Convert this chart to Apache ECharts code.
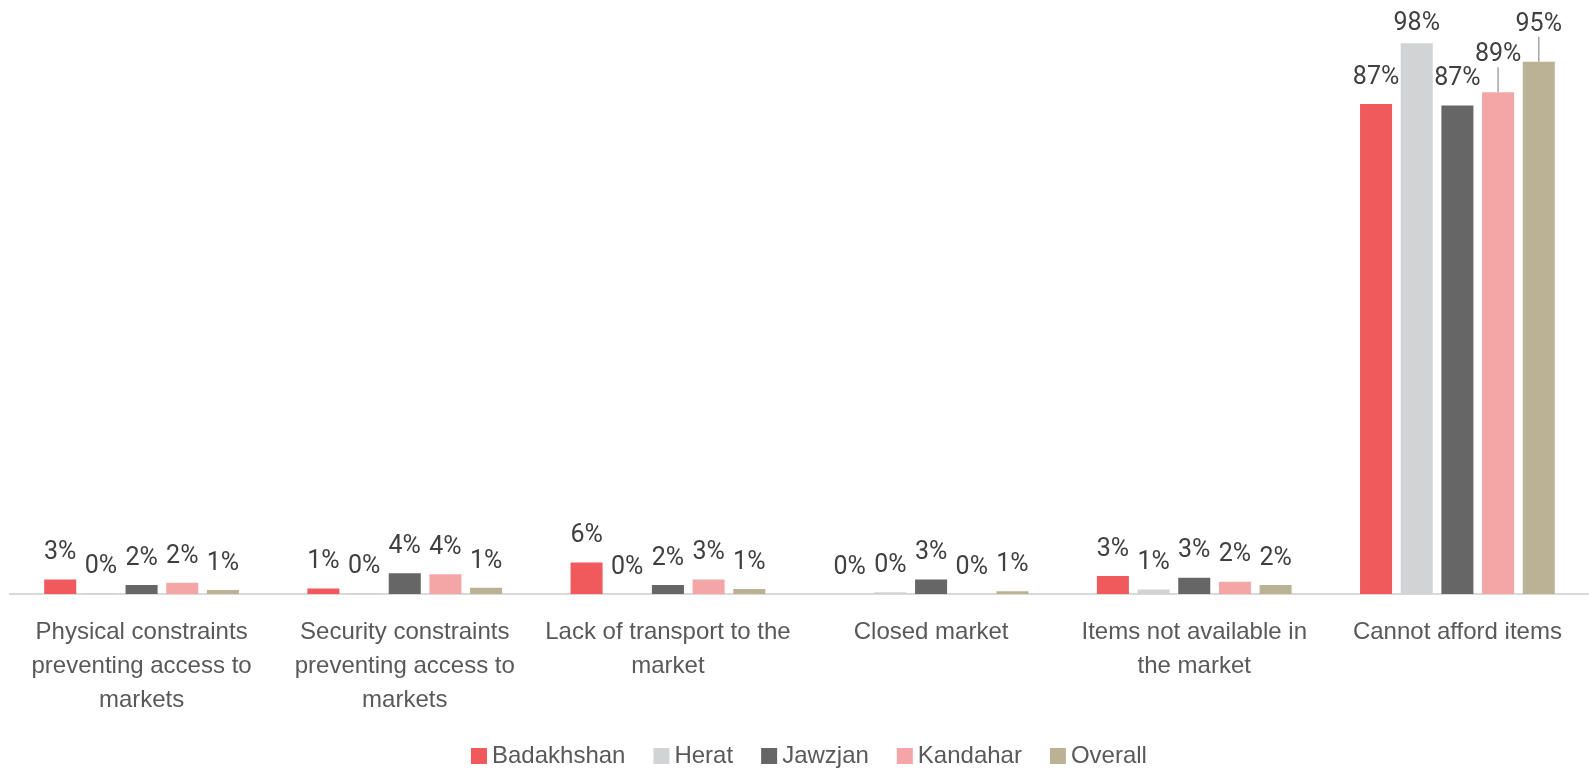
<!DOCTYPE html>
<html>
<head>
<meta charset="utf-8">
<script src="https://cdn.jsdelivr.net/npm/echarts@6/dist/echarts.min.js"></script>
<style>
  html, body { margin: 0; padding: 0; background: #fff; }
  #chart { width: 1589px; height: 770px; }
</style>
</head>
<body>
<div id="chart"></div>
<script>
  // categories (line breaks as in the original axis labels)
  var categories = [
    'Physical constraints\npreventing access to\nmarkets',
    'Security constraints\npreventing access to\nmarkets',
    'Lack of transport to the\nmarket',
    'Closed market',
    'Items not available in\nthe market',
    'Cannot afford items'
  ];

  // values in %
  var badakhshan = [2.6, 1.0, 5.6, 0.0, 3.2, 87.2];
  var herat      = [0.2, 0.2, 0.0, 0.3, 0.8, 98.0];
  var jawzjan    = [1.6, 3.7, 1.6, 2.6, 2.9, 86.9];
  var kandahar   = [2.0, 3.5, 2.6, 0.0, 2.2, 89.3];
  var overall    = [0.7, 1.1, 0.9, 0.5, 1.6, 94.7];

  var seriesNames = ['Badakhshan', 'Herat', 'Jawzjan', 'Kandahar', 'Overall'];
  var seriesData = [badakhshan, herat, jawzjan, kandahar, overall];
  var colors = ['#F05A5C', '#D2D3D5', '#666666', '#F4A6A7', '#BBB295'];

  // hand-moved data labels: [series, category, dy, leader line]
  var movedLabels = [[1, 5, 7, false], [3, 5, -11, true], [4, 5, -11, true]];

  var sans = '"Liberation Sans", Arial, sans-serif';

  var myChart = echarts.init(document.getElementById('chart'));

  function findMove(s, d) {
    for (var k = 0; k < movedLabels.length; k++) {
      if (movedLabels[k][0] === s && movedLabels[k][1] === d) return movedLabels[k];
    }
    return null;
  }

  var series = seriesNames.map(function (name, i) {
    var items = seriesData[i].map(function (v, d) {
      var m = findMove(i, d);
      if (m && m[3]) {
        return { value: v, labelLine: { show: true } };
      }
      return v;
    });
    return {
      name: name,
      type: 'bar',
      data: items,
      barGap: '27%',
      barCategoryGap: '26%',
      itemStyle: { color: colors[i] },
      label: {
        show: true,
        position: 'top',
        distance: 14,
        color: '#404040',
        fontSize: 25,
        fontFamily: 'Roboto, sans-serif',
        formatter: function (p) { return Math.round(p.value) + '%'; }
      },
      labelLine: {
        show: false,
        lineStyle: { color: '#a6a6a6', width: 1.5 }
      },
      labelLayout: function (params) {
        var m = findMove(i, params.dataIndex);
        return m ? { dy: m[2] } : {};
      }
    };
  });

  var option = {
    animation: false,
    color: colors,
    grid: { left: 10, right: -7, top: 32, bottom: 176, containLabel: false },
    legend: {
      data: seriesNames,
      top: 739,
      left: 466,
      itemWidth: 16,
      itemHeight: 16,
      itemGap: 28,
      icon: 'rect',
      textStyle: {
        color: '#595959',
        fontSize: 24,
        fontFamily: sans
      }
    },
    xAxis: {
      type: 'category',
      data: categories,
      axisLine: { lineStyle: { color: '#d9d9d9', width: 2 } },
      axisTick: { show: false },
      axisLabel: {
        interval: 0,
        margin: 21,
        color: '#595959',
        fontSize: 24,
        lineHeight: 34,
        fontFamily: sans
      }
    },
    yAxis: {
      type: 'value',
      min: 0,
      max: 100,
      show: false,
      splitLine: { show: false }
    },
    series: series
  };

  myChart.setOption(option);
</script>
</body>
</html>
